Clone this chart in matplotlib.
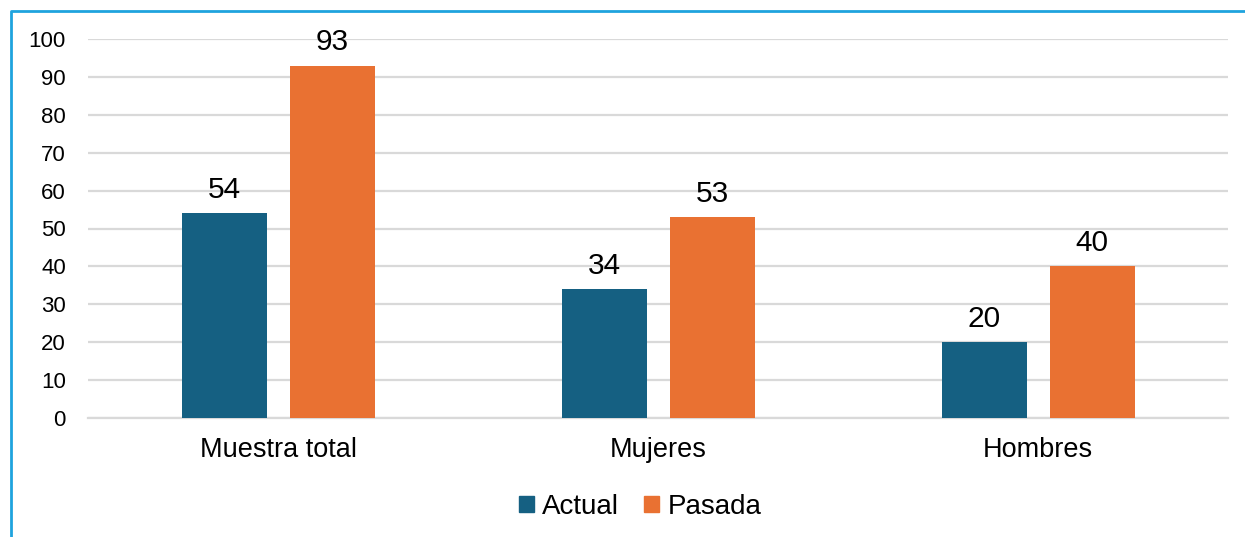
import matplotlib.pyplot as plt
import numpy as np
from matplotlib.lines import Line2D
from matplotlib.patches import Patch

plt.rcParams['font.family'] = ['Liberation Sans', 'DejaVu Sans']

categories = ['Muestra total', 'Mujeres', 'Hombres']
actual = [54, 34, 20]
pasada = [93, 53, 40]
series_names = ['Actual', 'Pasada']
yticks = list(range(0, 101, 10))

c_actual = '#156082'
c_pasada = '#E97132'
grid_color = '#D9D9D9'

fig = plt.figure(figsize=(12.45, 5.37), dpi=100)
ax = fig.add_axes([88 / 1245, 1 - 418 / 537, 1140 / 1245, 379 / 537])

x = np.arange(len(categories))
width = 85 / 380
offset = (85 + 23) / 2 / 380

bars1 = ax.bar(x - offset, actual, width, color=c_actual, zorder=3)
bars2 = ax.bar(x + offset, pasada, width, color=c_pasada, zorder=3)

# etiquetas de valores
for bars in [bars1, bars2]:
    for bar in bars:
        h = bar.get_height()
        ax.annotate(f'{h:.0f}', (bar.get_x() + bar.get_width() / 2, h),
                    xytext=(0, 11), textcoords='offset points',
                    ha='center', va='baseline', fontsize=21.5, color='black')

ax.set_xlim(-0.5, 2.5)
ax.set_ylim(0, 100)
ax.set_yticks(yticks)
ax.set_xticks(x)
ax.set_xticklabels(categories, fontsize=19.5)
ax.tick_params(axis='y', length=0, pad=16, labelsize=16)
ax.tick_params(axis='x', length=0, pad=14)
ax.grid(axis='y', color=grid_color, linewidth=1.6, zorder=0)
for s in ['top', 'right', 'left']:
    ax.spines[s].set_visible(False)
ax.spines['bottom'].set_color(grid_color)
ax.spines['bottom'].set_linewidth(1.6)

handles = [Patch(color=c_actual), Patch(color=c_pasada)]
fig.legend(handles, series_names, loc='center', bbox_to_anchor=(640 / 1245, 1 - 507 / 537),
           ncol=2, frameon=False, fontsize=20, handlelength=0.54, handleheight=0.5,
           handletextpad=0.3, columnspacing=0.9)

# borde azul
bx = 11 / 1245
by = 1 - 11 / 537
fig.add_artist(Line2D([bx, bx, 1], [0, by, by], transform=fig.transFigure,
                      color='#1FA3DE', linewidth=2))

fig.savefig('out.png', dpi=100)
